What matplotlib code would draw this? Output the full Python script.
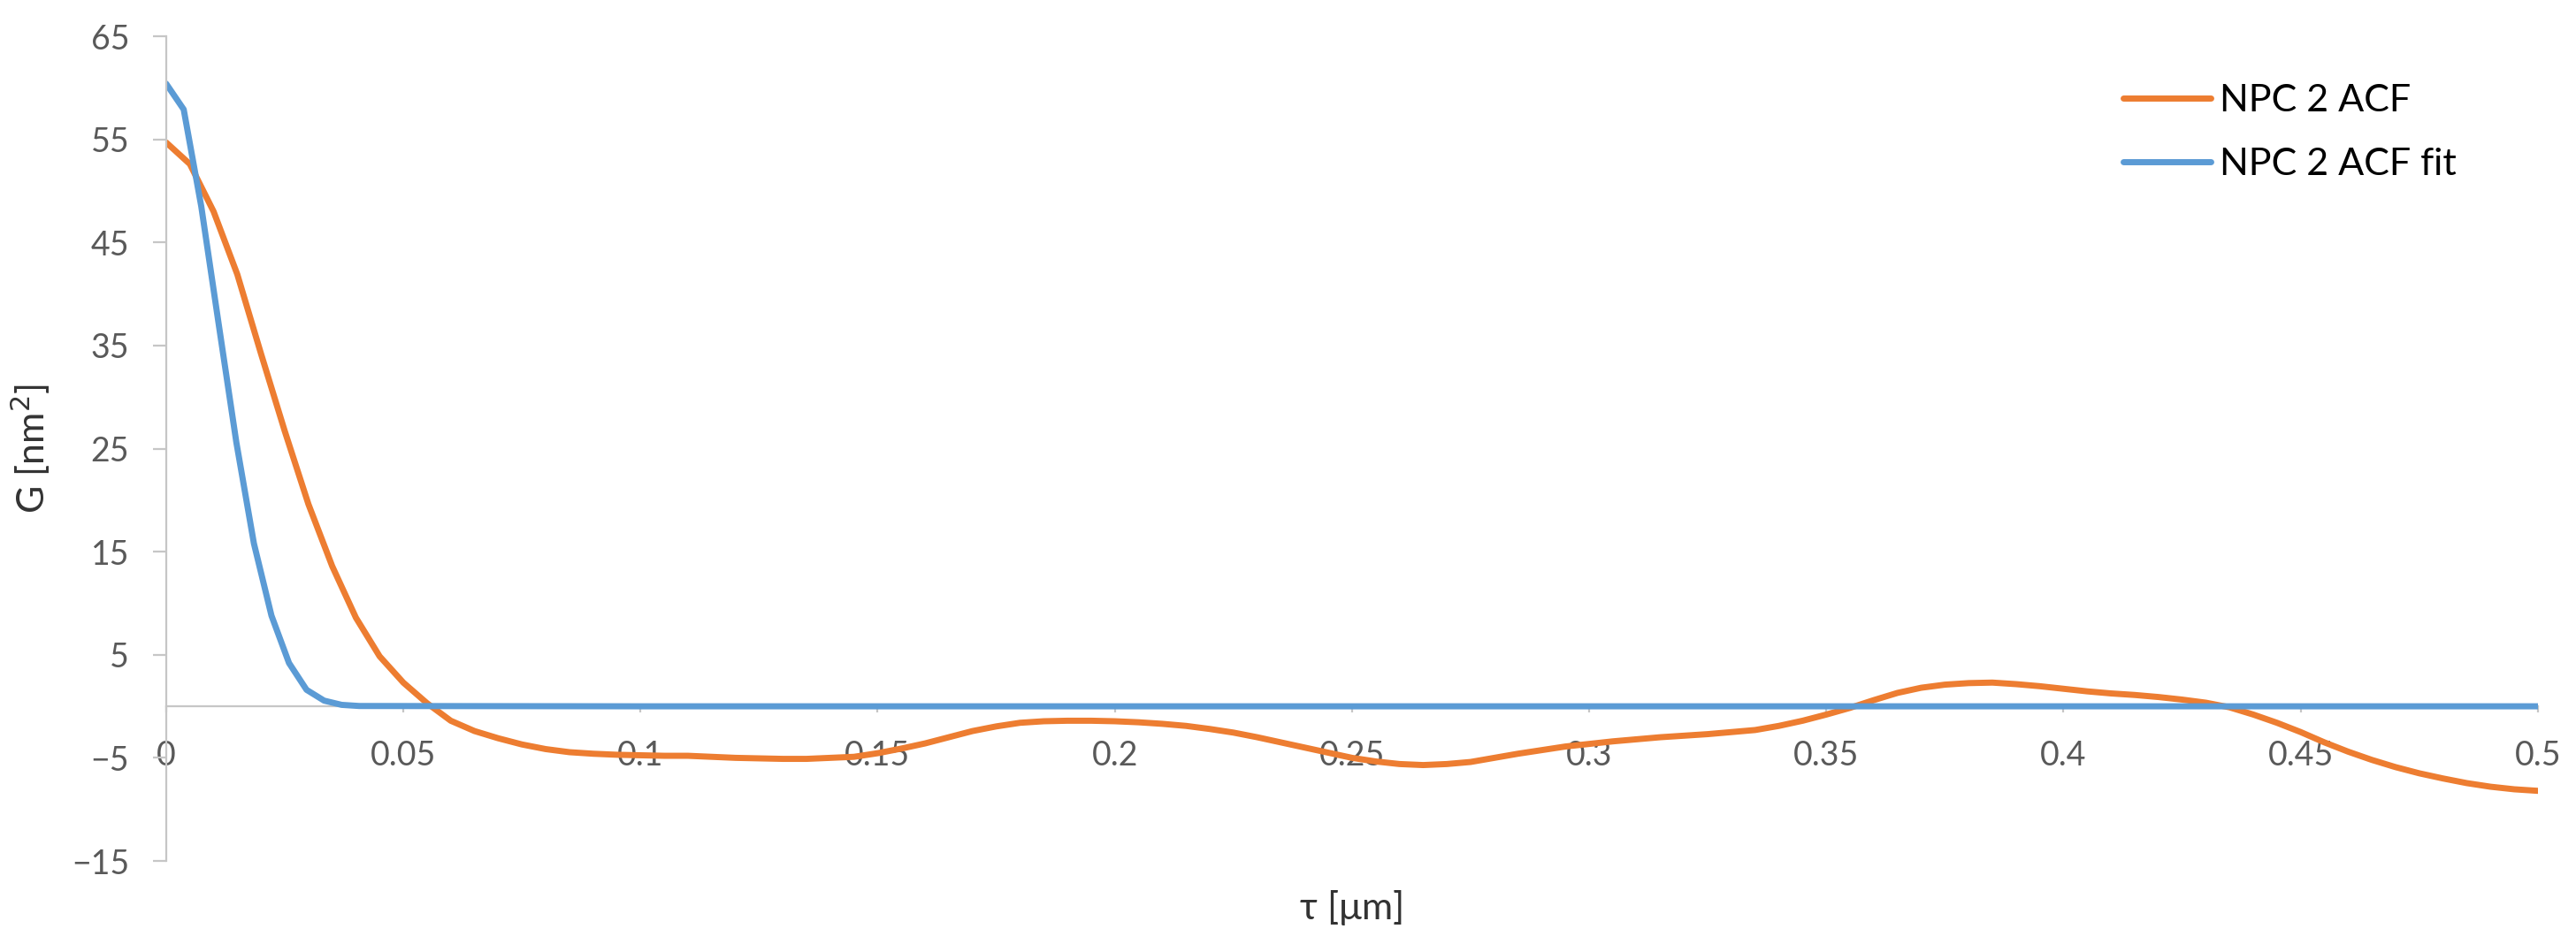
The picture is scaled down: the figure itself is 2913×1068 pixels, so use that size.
import numpy as np
import matplotlib
matplotlib.use('Agg')
import matplotlib.pyplot as plt

plt.rcParams['font.family'] = ['Lato', 'DejaVu Sans']

'---------- Data ----------'
# NPC 2 ACF, sampled every 0.005 um
acf_tau = np.round(np.arange(101) * 0.005, 3)
acf_g = [
    54.7, 52.6, 48.0, 41.9, 34.2, 26.7, 19.6, 13.6, 8.6, 4.85,
    2.3, 0.3, -1.4, -2.4, -3.1, -3.7, -4.15, -4.45, -4.6, -4.7,
    -4.75, -4.8, -4.8, -4.9, -5.0, -5.05, -5.1, -5.1, -5.0, -4.9,
    -4.55, -4.1, -3.6, -3.0, -2.4, -1.95, -1.6, -1.45, -1.4, -1.4,
    -1.45, -1.55, -1.7, -1.9, -2.2, -2.55, -3.0, -3.5, -4.0, -4.5,
    -5.0, -5.35, -5.6, -5.7, -5.6, -5.4, -5.0, -4.6, -4.25, -3.9,
    -3.65, -3.4, -3.2, -3.0, -2.85, -2.7, -2.5, -2.3, -1.9, -1.4,
    -0.8, -0.15, 0.6, 1.3, 1.8, 2.1, 2.25, 2.3, 2.15, 1.95,
    1.7, 1.45, 1.25, 1.1, 0.9, 0.65, 0.35, -0.1, -0.8, -1.6,
    -2.5, -3.5, -4.4, -5.2, -5.9, -6.5, -7.0, -7.45, -7.8, -8.05,
    -8.2,
]

# NPC 2 ACF fit
fit_tau = [0, 0.0037, 0.0074, 0.0111, 0.0148, 0.0185, 0.0222, 0.0259,
           0.0296, 0.0333, 0.037, 0.0407, 0.1, 0.2, 0.3, 0.4, 0.5]
fit_g = [60.4, 57.9, 48.5, 37.0, 25.6, 15.8, 8.8, 4.2,
         1.6, 0.55, 0.14, 0.03, 0, 0, 0, 0, 0]

x_ticks = [0, 0.05, 0.1, 0.15, 0.2, 0.25, 0.3, 0.35, 0.4, 0.45, 0.5]
x_labels = ['0', '0.05', '0.1', '0.15', '0.2', '0.25', '0.3', '0.35', '0.4', '0.45', '0.5']
y_ticks = [-15, -5, 5, 15, 25, 35, 45, 55, 65]

'---------- Plot ----------'
fig = plt.figure(figsize=(29.13, 10.68), dpi=100)
ax = fig.add_axes([0.0645, 0.088, 0.9207, 0.8736])

ax.plot(acf_tau, acf_g, color='#ED7D31', lw=5, label='NPC 2 ACF', solid_capstyle='round')
ax.plot(fit_tau, fit_g, color='#5B9BD5', lw=5, label='NPC 2 ACF fit', solid_capstyle='round')

ax.set_xlim(0, 0.5)
ax.set_ylim(-15, 65)
ax.set_xticks(x_ticks)
ax.set_xticklabels(x_labels)
ax.set_yticks(y_ticks)

for s in ['top', 'right']:
    ax.spines[s].set_visible(False)
ax.spines['bottom'].set_position(('data', 0))
for s in ['left', 'bottom']:
    ax.spines[s].set_color('#C6C6C6')
    ax.spines[s].set_linewidth(1.6)
ax.spines['bottom'].set_zorder(1)

ax.tick_params(axis='y', direction='out', length=11, width=1.6, color='#C6C6C6',
               pad=19, labelsize=27, labelcolor='#595959')
ax.tick_params(axis='x', direction='out', length=5, width=1.6, color='#C6C6C6',
               pad=22, labelsize=27, labelcolor='#595959')

ax.set_xlabel('τ [μm]', fontsize=31, color='#333333')
ax.xaxis.set_label_coords(0.5, -0.035)
ax.set_ylabel('G [nm$^2$]', fontsize=31, color='#333333')
ax.yaxis.set_label_coords(-0.048, 0.5)

ax.legend(loc='center left', bbox_to_anchor=(0.825, 0.883), frameon=False,
          fontsize=31, handlelength=2.3, handletextpad=0.25, labelspacing=0.8,
          borderpad=0, borderaxespad=0)

plt.savefig('out.png', dpi=100)
